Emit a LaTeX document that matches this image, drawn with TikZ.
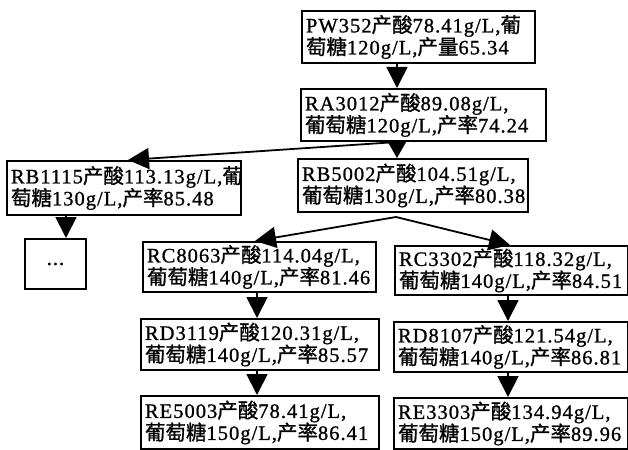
\documentclass[tikz,border=0pt]{standalone}
\usepackage{fontspec}
\setmainfont{Liberation Serif}[LetterSpace=5,RawFeature={embolden=1}]
\newfontfamily\cjk{Noto Sans CJK SC}[RawFeature={embolden=1}]
\newcommand\hz[1]{{\cjk #1}}
\usetikzlibrary{arrows.meta}
\begin{document}
\begin{tikzpicture}[x=1pt,y=-1pt,
  box/.style={draw, line width=2pt, anchor=north west, inner xsep=4pt, inner ysep=0pt,
    align=left, font=\fontsize{20.5}{22}\selectfont},
  arr/.style={line width=1.8pt, -{Triangle[length=21pt,width=21pt]}},
  arrs/.style={line width=1.8pt, -{Triangle[length=17pt,width=19pt]}}]
\useasboundingbox[fill=white] (0,0) rectangle (628,449);
% boxes
\node[box, minimum width=233pt, minimum height=52pt, text width=225pt] (pw) at (301,10)
  {PW352\hz{产酸}78.41g/L,\hz{葡}\\\hz{萄糖}120g/L,\hz{产量}65.34};
\node[box, minimum width=245pt, minimum height=52pt, text width=237pt] (ra) at (300,88)
  {RA3012\hz{产酸}89.08g/L,\\\hz{葡萄糖}120g/L,\hz{产率}74.24};
\node[box, minimum width=234pt, minimum height=54pt, text width=226pt] (rb1) at (6,160)
  {RB1115\hz{产酸}113.13g/L,\hz{葡}\\\hz{萄糖}130g/L,\hz{产率}85.48};
\node[box, minimum width=61pt, minimum height=50pt, text width=53pt, align=center] (dots) at (24,238)
  {...};
\node[box, minimum width=230pt, minimum height=53pt, text width=222pt] (rb5) at (297,158)
  {RB5002\hz{产酸}104.51g/L,\\\hz{葡萄糖}130g/L,\hz{产率}80.38};
\node[box, minimum width=233pt, minimum height=50pt, text width=225pt] (rc8) at (142,241)
  {RC8063\hz{产酸}114.04g/L,\\\hz{葡萄糖}140g/L,\hz{产率}81.46};
\node[box, minimum width=233pt, minimum height=49pt, text width=225pt] (rc3) at (394,245)
  {RC3302\hz{产酸}118.32g/L,\\\hz{葡萄糖}140g/L,\hz{产率}84.51};
\node[box, minimum width=238pt, minimum height=51pt, text width=230pt] (rd3) at (140,318)
  {RD3119\hz{产酸}120.31g/L,\\\hz{葡萄糖}140g/L,\hz{产率}85.57};
\node[box, minimum width=234pt, minimum height=50pt, text width=226pt] (rd8) at (393,321)
  {RD8107\hz{产酸}121.54g/L,\\\hz{葡萄糖}140g/L,\hz{产率}86.81};
\node[box, minimum width=238pt, minimum height=53pt, text width=230pt] (re5) at (140,395)
  {RE5003\hz{产酸}78.41g/L,\\\hz{葡萄糖}150g/L,\hz{产率}86.41};
\node[box, minimum width=234pt, minimum height=51pt, text width=226pt] (re3) at (393,397)
  {RE3303\hz{产酸}134.94g/L,\\\hz{葡萄糖}150g/L,\hz{产率}89.96};
% guide coordinates
\coordinate (c1) at (397,0);
\coordinate (c2) at (128,0);
\coordinate (c3) at (66,0);
\coordinate (c4) at (255,0);
\coordinate (c5) at (510,0);
\coordinate (c6) at (257,0);
\coordinate (c7) at (508,0);
\coordinate (sp) at (396,217);
% connectors
\draw[arr] (pw.south -| c1) -- (ra.north -| c1);
\draw[arr] (ra.south -| c1) -- (rb1.north -| c2);
\draw[arrs] (ra.south -| c1) -- (rb5.north -| c1);
\draw[arr] (rb1.south -| c3) -- (dots.north -| c3);
\draw[arr] (sp) -- (rc8.north -| c4);
\draw[arr] (sp) -- (rc3.north -| c5);
\draw[arr] (rc8.south -| c6) -- (rd3.north -| c6);
\draw[arr] (rd3.south -| c6) -- (re5.north -| c6);
\draw[arr] (rc3.south -| c7) -- (rd8.north -| c7);
\draw[arr] (rd8.south -| c7) -- (re3.north -| c7);
\end{tikzpicture}
\end{document}
